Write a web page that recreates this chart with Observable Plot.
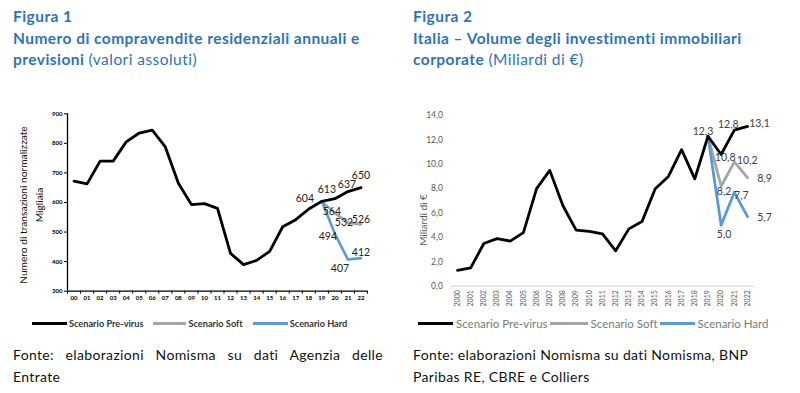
<!DOCTYPE html>
<html><head><meta charset="utf-8">
<script src="https://cdn.jsdelivr.net/npm/d3@7"></script>
<script src="https://cdn.jsdelivr.net/npm/@observablehq/plot@0.6"></script>
<style>
body{margin:0;background:#fff;font-family:Lato,"Open Sans",sans-serif;font-variant-ligatures:none;}
#root{position:relative;width:800px;height:393px;overflow:hidden;background:#fff;}
.abs{position:absolute;}
.title{color:#2e74b5;font-size:15.5px;letter-spacing:0.45px;line-height:21.5px;font-weight:700;white-space:nowrap;}
.title .n{font-weight:400;}
.src{font-size:14px;letter-spacing:0.35px;line-height:22px;color:#111;white-space:nowrap;}
.leg{display:flex;align-items:center;white-space:nowrap;}
.sw{display:inline-block;height:3px;}
.ylab{transform-origin:0 0;transform:rotate(-90deg);white-space:nowrap;text-align:center;}
svg text{font-variant-ligatures:none;}
</style></head><body><div id="root">
<div class="abs title" style="left:13px;top:6px;">Figura 1<br>Numero di compravendite residenziali annuali e<br>previsioni <span class="n">(valori assoluti)</span></div>
<div class="abs title" style="left:413px;top:6px;">Figura 2<br>Italia – Volume degli investimenti immobiliari<br>corporate <span class="n">(Miliardi di €)</span></div>
<div id="c1" class="abs" style="left:0;top:100px;"></div>
<div id="c2" class="abs" style="left:400px;top:100px;"></div>
<div class="abs ylab" style="left:15px;top:295px;width:180px;font-size:10.2px;line-height:16px;color:#111;">Numero di transazioni normalizzate<br>Migliaia</div>
<div class="abs ylab" style="left:417px;top:270px;width:100px;font-size:10px;line-height:12px;color:#595959;">Miliardi di €</div>
<div class="abs leg" id="leg1" style="left:32px;top:316px;height:14px;font-size:9.2px;font-weight:700;color:#333;"></div>
<div class="abs leg" id="leg2" style="left:418px;top:315px;height:16px;font-size:11.5px;color:#7a7a7a;"></div>
<div class="abs src" style="left:13px;top:344px;width:370px;text-align:justify;text-align-last:justify;">Fonte: elaborazioni Nomisma su dati Agenzia delle</div>
<div class="abs src" style="left:13px;top:366px;">Entrate</div>
<div class="abs src" style="left:413px;top:344px;">Fonte: elaborazioni Nomisma su dati Nomisma, BNP<br>Paribas RE, CBRE e Colliers</div>
</div>
<script>
// ---------- DATA ----------
const seriesNames = ["Scenario Pre-virus", "Scenario Soft", "Scenario Hard"];
const years1 = ["00","01","02","03","04","05","06","07","08","09","10","11","12","13","14","15","16","17","18","19","20","21","22"];
const preVirus1 = [672,663,740,740,805,835,845,788,665,593,596,580,428,390,404,435,518,542,578,604,613,637,650];
const soft1 = [604,564,532,526];   // 19..22
const hard1 = [604,494,407,412];   // 19..22
const yTicks1 = [300,400,500,600,700,800,900];

const years2 = ["2000","2001","2002","2003","2004","2005","2006","2007","2008","2009","2010","2011","2012","2013","2014","2015","2016","2017","2018","2019","2020","2021","2022"];
const preVirus2 = [1.3,1.5,3.5,3.9,3.7,4.4,8.0,9.5,6.6,4.6,4.5,4.3,2.9,4.7,5.3,8.0,9.0,11.2,8.8,12.3,10.8,12.8,13.1];
const soft2 = [12.3,8.2,10.2,8.9];   // 2019..2022
const hard2 = [12.3,5.0,7.7,5.7];    // 2019..2022
const yTicks2 = [0,2,4,6,8,10,12,14];

// ---------- STYLE ----------
const colors = ["#000000", "#a5a5a5", "#5b9bd5"];
const forecastStart = 19;

function rows(vals, start) { return vals.map((v, k) => ({i: start + k, v})); }

// label offsets (style only): [dx, dy]
const off1 = {
  p19:[-17,-3], p20:[-8,-9], p21:[-1,-7], p22:[0,-12],
  s20:[-3,-2], s21:[-4,0], s22:[0,-5],
  h20:[-7,3], h21:[-8,9], h22:[0,-5]
};
const off2 = {
  p19:[-5,-5], p20:[4,3], p21:[-6,-6], p22:[12,-3],
  s20:[3,5], s21:[13,-1], s22:[17,1],
  h20:[3,9], h21:[7,3], h22:[17,1]
};

function labelMarks(series, offs, fmt, opts) {
  const marks = [];
  const keys = ["p","s","h"];
  series.forEach((data, si) => {
    data.forEach(d => {
      const key = keys[si] + String(d.i);
      if (!offs[key]) return;
      marks.push(Plot.text([d], {x:"i", y:"v", text: dd => fmt(dd.v), dx: offs[key][0], dy: offs[key][1], ...opts}));
    });
  });
  return marks;
}

// ---------- CHART 1 ----------
const pre1 = rows(preVirus1, 0), sf1 = rows(soft1, forecastStart), hd1 = rows(hard1, forecastStart);
const lbl1 = [pre1.filter(d => d.i >= forecastStart), sf1.filter(d => d.i > forecastStart), hd1.filter(d => d.i > forecastStart)];
const c1 = Plot.plot({
  width: 400, height: 210,
  marginLeft: 67, marginRight: 33, marginTop: 13.3, marginBottom: 19.3,
  style: {background: "transparent", fontFamily: "Lato, sans-serif", overflow: "visible"},
  x: {domain: [-0.5, 22.5]},
  y: {domain: [300, 900]},
  marks: [
    Plot.axisY({ticks: yTicks1, tickSize: 3, tickPadding: 2, fontSize: 6, fontWeight: 700, label: null, color: "#000"}),
    Plot.axisX({ticks: d3.range(23), tickSize: 0, tickPadding: 5, fontSize: 6, fontWeight: 700, tickFormat: i => years1[i], label: null, color: "#000"}),
    Plot.axisX({ticks: d3.range(24).map(i => i - 0.5), tickSize: 3, tickFormat: () => "", label: null, color: "#000"}),
    Plot.ruleX([-0.5], {y1: 300, y2: 900, stroke: "#000", strokeWidth: 1.3}),
    Plot.ruleY([300], {x1: -0.5, x2: 22.5, stroke: "#000", strokeWidth: 1.3}),
    Plot.line(sf1, {x: "i", y: "v", stroke: colors[1], strokeWidth: 2.6}),
    Plot.line(hd1, {x: "i", y: "v", stroke: colors[2], strokeWidth: 2.6}),
    Plot.line(pre1, {x: "i", y: "v", stroke: colors[0], strokeWidth: 2.8}),
    ...labelMarks(lbl1, off1, v => String(v), {fontSize: 10.5, fill: "#222"})
  ]
});
document.getElementById("c1").appendChild(c1);

// ---------- CHART 2 ----------
const comma = v => v.toFixed(1).replace(".", ",");
const pre2 = rows(preVirus2, 0), sf2 = rows(soft2, forecastStart), hd2 = rows(hard2, forecastStart);
const lbl2 = [pre2.filter(d => d.i >= forecastStart), sf2.filter(d => d.i > forecastStart), hd2.filter(d => d.i > forecastStart)];
const c2 = Plot.plot({
  width: 400, height: 215,
  marginLeft: 50.4, marginRight: 46.4, marginTop: 15, marginBottom: 29.3,
  style: {background: "transparent", fontFamily: "Lato, sans-serif", overflow: "visible"},
  x: {domain: [-0.5, 22.5]},
  y: {domain: [0, 14]},
  marks: [
    Plot.ruleY([0], {x1: -0.5, x2: 22.5, stroke: "#d9d9d9", strokeWidth: 1.3}),
    Plot.axisY({ticks: yTicks2, tickSize: 0, tickPadding: 8, fontSize: 8.5, tickFormat: comma, label: null, color: "#595959"}),
    Plot.axisX({ticks: d3.range(23), tickSize: 0, tickPadding: 4, tickRotate: -90, fontSize: 7, tickFormat: i => years2[i], label: null, color: "#595959"}),
    Plot.line(sf2, {x: "i", y: "v", stroke: colors[1], strokeWidth: 2.8}),
    Plot.line(hd2, {x: "i", y: "v", stroke: colors[2], strokeWidth: 2.8}),
    Plot.line(pre2, {x: "i", y: "v", stroke: colors[0], strokeWidth: 2.8}),
    ...labelMarks(lbl2, off2, comma, {fontSize: 10.5, fill: "#404040"})
  ]
});
document.getElementById("c2").appendChild(c2);

// ---------- LEGENDS ----------
function legend(el, swW, gaps) {
  seriesNames.forEach((n, k) => {
    const s = document.createElement("span");
    s.className = "sw"; s.style.width = swW[k] + "px"; s.style.background = colors[k];
    s.style.marginLeft = (k === 0 ? 0 : gaps[1]) + "px";
    const t = document.createElement("span");
    t.textContent = n; t.style.marginLeft = gaps[0] + "px";
    el.appendChild(s); el.appendChild(t);
  });
}
legend(document.getElementById("leg1"), [35, 33, 35], [2, 10]);
legend(document.getElementById("leg2"), [35, 38, 35], [3, 2]);
</script>
</body></html>
